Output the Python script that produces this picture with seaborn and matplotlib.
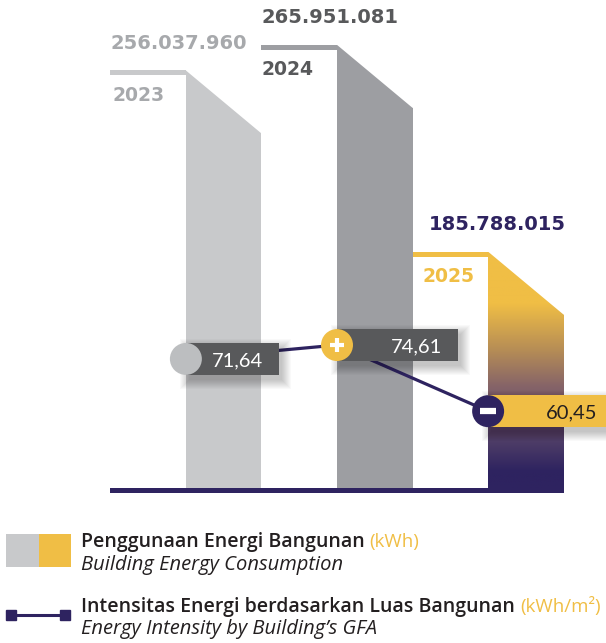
import numpy as np
import pandas as pd
import matplotlib
matplotlib.use("Agg")
import matplotlib.pyplot as plt
import matplotlib.transforms as mtransforms
from matplotlib.patches import Rectangle, Polygon
from matplotlib.lines import Line2D
from matplotlib.colors import LinearSegmentedColormap
import seaborn as sns

# ---------------- data ----------------
years = ["2023", "2024", "2025"]
energy_kwh = [256037960, 265951081, 185788015]
intensity = [71.64, 74.61, 60.45]

legend_energy_id = "Penggunaan Energi Bangunan"
legend_energy_unit = "(kWh)"
legend_energy_en = "Building Energy Consumption"
legend_int_id = "Intensitas Energi berdasarkan Luas Bangunan"
legend_int_unit = "(kWh/m²)"
legend_int_en = "Energy Intensity by Building’s GFA"

# ---------------- styles ----------------
GRAY_L = "#C8C9CB"
GRAY_M = "#9D9EA2"
YELLOW = "#F0BE45"
PURPLE = "#2E2360"
DARK = "#58595B"
bar_colors = [GRAY_L, GRAY_M, YELLOW]
value_colors = ["#A7A9AC", "#58595B", PURPLE]
year_colors = ["#A7A9AC", "#58595B", YELLOW]
value_dx = [0, 0, 16]
year_dx = [2, 0, 10]
circle_colors = ["#BCBEC0", YELLOW, PURPLE]
box_colors = [DARK, DARK, YELLOW]
box_text_colors = ["white", "white", "#231F20"]
box_widths = [93, 121, 125]

W, H = 606, 643
sns.set_theme(style="white")
plt.rcParams['font.family'] = ['Lato', 'DejaVu Sans']

fig = plt.figure(figsize=(W / 100, H / 100), dpi=100)
fig.patch.set_facecolor("white")
base_px = 488
ax = fig.add_axes([0, 1 - base_px / H, 1, base_px / H])

df = pd.DataFrame({"year": years, "energy": energy_kwh})
sns.barplot(data=df, x="year", y="energy", hue="year", palette=bar_colors,
            width=0.5, legend=False, ax=ax, saturation=1, linewidth=0)

ymin = 94.2e6
ymax = ymin + base_px / 2.58 * 1e6
XLIM = (-1.48, 2.53)
ax.set_xlim(*XLIM)
ax.set_ylim(ymin, ymax)
ax.axis("off")
upp = (ymax - ymin) / base_px  # data units per pixel

patches = sorted([p for p in ax.patches], key=lambda p: p.get_x())

grad_cmap = LinearSegmentedColormap.from_list(
    "grad", [(0.0, YELLOW), (0.22, YELLOW), (0.42, "#B58C56"), (0.57, "#866468"),
             (0.72, "#5E4868"), (0.82, "#4A3A66"), (0.93, PURPLE), (1.0, PURPLE)])

chamfer = 63 * upp
strip = 5 * upp
for i, p in enumerate(patches):
    x0, w, top = p.get_x(), p.get_width(), p.get_height()
    x1 = x0 + w
    if i == 2:
        p.set_facecolor("none")
        grad = np.linspace(0, 1, 256).reshape(-1, 1)
        im = ax.imshow(grad, cmap=grad_cmap, extent=[x0, x1, ymin, top],
                       aspect="auto", origin="upper", zorder=1)
        im.set_clip_path(p)
    # chamfer the top-right corner
    ex = 0.02
    ax.add_patch(Polygon([(x0, top), (x1, top - chamfer), (x1 + ex, top - chamfer),
                          (x1 + ex, top + 4 * upp), (x0, top + 4 * upp)],
                         closed=True, facecolor="white", edgecolor="none", zorder=2))
    # tab strip
    ax.add_patch(Rectangle((x0 - w, top - strip), w, strip, facecolor=bar_colors[i],
                           edgecolor="none", zorder=2))
    ax.annotate(f"{energy_kwh[i]:,}".replace(",", "."), xy=(x0 - w, top),
                xytext=(value_dx[i], 27), textcoords="offset pixels",
                ha="left", va="center", fontsize=14, fontweight="bold",
                color=value_colors[i], family="DejaVu Sans", zorder=3)
    ax.annotate(years[i], xy=(x0 - w, top), xytext=(year_dx[i], -25),
                textcoords="offset pixels", ha="left", va="center", fontsize=13.5,
                fontweight="bold", color=year_colors[i], family="DejaVu Sans", zorder=3)

# baseline
bx0 = patches[0].get_x() - patches[0].get_width()
bx1 = patches[-1].get_x() + patches[-1].get_width()
ax.add_patch(Rectangle((bx0, ymin - 5 * upp), bx1 - bx0, 5 * upp, facecolor=PURPLE,
                       edgecolor="none", clip_on=False, zorder=3))

# ---------------- intensity line ----------------
ax2 = ax.twinx()
ax2.set_ylim(44.0, 148.5)
ax2.axis("off")
xs = [p.get_x() for p in patches]
df2 = pd.DataFrame({"x": xs, "intensity": intensity})
sns.lineplot(data=df2, x="x", y="intensity", ax=ax2, color=PURPLE, lw=2.3, zorder=1)
ax.set_xlim(*XLIM)
ax2.set_ylim(44.0, 148.5)

for i, (x, v) in enumerate(zip(xs, intensity)):
    tr = fig.dpi_scale_trans + mtransforms.ScaledTranslation(x, v, ax2.transData)
    bw = box_widths[i]
    # soft shadow
    for k in range(10):
        pad = k * 1.0
        ax2.add_patch(Rectangle(((3 - pad) / 100, (-16 - 5 - pad) / 100), (bw + 2 * pad) / 100,
                                (32 + 2 * pad) / 100, transform=tr, facecolor="black",
                                alpha=0.022, edgecolor="none", zorder=2, clip_on=False))
    ax2.add_patch(Rectangle((0, -16 / 100), bw / 100, 32 / 100, transform=tr,
                            facecolor=box_colors[i], edgecolor="none", zorder=3, clip_on=False))
    ax2.text((bw - 16) / 100, 0, f"{v:.2f}".replace(".", ","), transform=tr,
             ha="right", va="center_baseline", fontsize=14.5, color=box_text_colors[i], zorder=4)

ax2.scatter(xs, intensity, s=530, c=circle_colors, linewidths=0, zorder=5)
for i in range(1, len(xs)):
    if intensity[i] > intensity[i - 1]:
        ax2.plot([xs[i]], [intensity[i]], marker="+", ms=10, mew=3.0, color="white", zorder=6)
    else:
        ax2.plot([xs[i]], [intensity[i]], marker="_", ms=12, mew=4.5, color="white",
                 solid_capstyle="round", zorder=6)
ax.set_xlim(*XLIM)

# ---------------- legend ----------------
def fx(px):
    return px / W


def fy(py):
    return 1 - py / H


fig.add_artist(Rectangle((fx(6), fy(567)), 33 / W, 33 / H, transform=fig.transFigure,
                         facecolor=GRAY_L, edgecolor="none"))
fig.add_artist(Rectangle((fx(39), fy(567)), 32 / W, 33 / H, transform=fig.transFigure,
                         facecolor=YELLOW, edgecolor="none"))
fig.add_artist(Line2D([fx(11), fx(65)], [fy(615), fy(615)], transform=fig.transFigure,
                      color=PURPLE, lw=2.2, marker="s", ms=7.5, markevery=[0, 1]))

LEG_FONT = ["Open Sans", "DejaVu Sans"]
renderer = fig.canvas.get_renderer()
for head, unit, sub, yb1, yb2 in [(legend_energy_id, legend_energy_unit, legend_energy_en, 547, 570),
                                  (legend_int_id, legend_int_unit, legend_int_en, 612, 634)]:
    t = fig.text(fx(81), fy(yb1), head, ha="left", va="baseline", fontsize=14,
                 fontweight="semibold", color="#231F20", family=LEG_FONT)
    bb = t.get_window_extent(renderer)
    fig.text(fx(bb.x1 + 5), fy(yb1), unit, ha="left", va="baseline", fontsize=13.5,
             color=YELLOW, family=LEG_FONT)
    fig.text(fx(81), fy(yb2), sub, ha="left", va="baseline", fontsize=14.5,
             style="italic", color="#231F20", family=LEG_FONT)

fig.savefig("out.png", dpi=100)
